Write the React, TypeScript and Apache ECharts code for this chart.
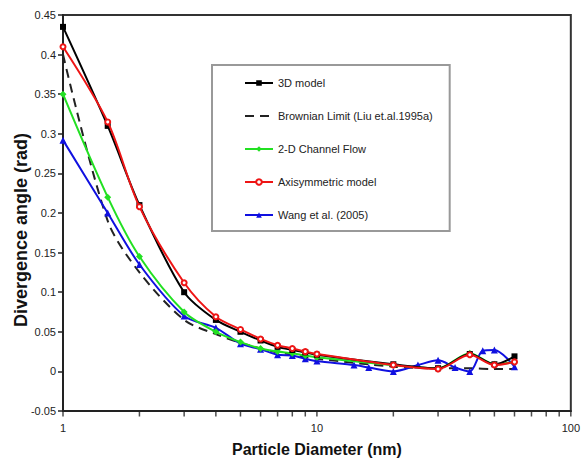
import React, { useEffect, useRef } from "react";
import * as echarts from "echarts";

const diam = [1, 1.5, 2, 3, 4, 5, 6, 7, 8, 9, 10, 20, 30, 40, 50, 60];
const model3D = [0.435, 0.31, 0.21, 0.1, 0.065, 0.05, 0.039, 0.031, 0.027, 0.024, 0.021, 0.009, 0.004, 0.022, 0.009, 0.019];
const brownian = [0.4, 0.19, 0.125, 0.065, 0.047, 0.036, 0.029, 0.024, 0.021, 0.018, 0.016, 0.006, 0.004, 0.004, 0.003, 0.003];
const channel2D = [0.35, 0.22, 0.145, 0.075, 0.05, 0.037, 0.029, 0.025, 0.023, 0.02, 0.018, 0.008, 0.004, 0.023, 0.009, 0.012];
const axisym = [0.41, 0.315, 0.208, 0.112, 0.069, 0.053, 0.041, 0.033, 0.029, 0.025, 0.022, 0.008, 0.003, 0.021, 0.008, 0.012];
const wangDiam = [1, 1.5, 2, 3, 4, 5, 6, 7, 8, 9, 10, 14, 16, 20, 25, 30, 35, 40, 45, 50, 60];
const wang = [0.292, 0.2, 0.135, 0.07, 0.055, 0.035, 0.028, 0.021, 0.02, 0.016, 0.013, 0.008, 0.005, 0.0, 0.008, 0.014, 0.005, 0.0, 0.026, 0.027, 0.006];

const xTicks = [1, 2, 3, 4, 5, 6, 7, 8, 9, 10, 20, 30, 40, 50, 60, 70, 80, 90, 100];
const yMin = -0.05;
const yTitle = "Divergence angle (rad)";
const xTitle = "Particle Diameter (nm)";

const pair = (xs: number[], ys: number[]) => xs.map((x, i) => [x, ys[i]]);

export default function App() {
  const ref = useRef<HTMLDivElement>(null);
  useEffect(() => {
    if (!ref.current) return;
    const chart = echarts.init(ref.current, undefined, { renderer: "svg" });
    const font = "Liberation Sans, Arial, sans-serif";
    chart.setOption({
      animation: false,
      backgroundColor: "#fff",
      grid: {
        left: 63,
        top: 15,
        right: 11,
        bottom: 50,
        show: true,
        borderColor: "#333",
        borderWidth: 2,
        backgroundColor: "transparent",
      },
      graphic: [
        {
          type: "text",
          x: 21,
          y: 230,
          rotation: Math.PI / 2,
          style: {
            text: yTitle,
            fontFamily: font,
            fontSize: 18,
            fontWeight: "bold",
            fill: "#111",
            align: "center",
            verticalAlign: "middle",
          },
        },
      ],
      legend: {
        orient: "vertical",
        left: 212,
        top: 65,
        padding: [11, 17, 9, 32],
        itemGap: 19,
        itemWidth: 28,
        itemHeight: 7,
        backgroundColor: "#fff",
        borderColor: "#999",
        borderWidth: 2,
        textStyle: { fontFamily: font, fontSize: 11, color: "#222", lineHeight: 14 },
        data: [
          "3D model",
          { name: "Brownian Limit (Liu et.al.1995a)", itemStyle: { opacity: 0 } },
          "2-D Channel Flow",
          "Axisymmetric model",
          "Wang et al. (2005)",
        ],
      },
      xAxis: {
        type: "log",
        logBase: 10,
        min: 1,
        max: 100,
        name: xTitle,
        nameLocation: "middle",
        nameGap: 30,
        nameTextStyle: { fontFamily: font, fontSize: 16, fontWeight: "bold", color: "#111" },
        axisLine: { show: true, onZero: false, lineStyle: { color: "#222", width: 2 } },
        axisTick: { show: false },
        axisLabel: { fontFamily: font, fontSize: 11, color: "#222", margin: 11 },
        splitLine: { show: false },
        minorTick: { show: false },
      },
      yAxis: {
        type: "value",
        min: yMin,
        max: 0.45,
        interval: 0.05,
        axisLine: { show: true, onZero: false, lineStyle: { color: "#222", width: 2 } },
        axisTick: { show: true, inside: false, length: 5, lineStyle: { color: "#222", width: 1.5 } },
        axisLabel: {
          fontFamily: font,
          fontSize: 11,
          color: "#222",
          margin: 7,
          formatter: (v: number) => String(parseFloat(v.toFixed(2))),
        },
        splitLine: { show: false },
      },
      series: [
        {
          name: "xTicks",
          type: "scatter",
          data: xTicks.map((v) => [v, yMin]),
          symbol: "rect",
          symbolSize: [1.5, 5],
          symbolOffset: [0, 3],
          itemStyle: { color: "#222" },
          clip: false,
          silent: true,
          z: 10,
        },
        {
          name: "Brownian Limit (Liu et.al.1995a)",
          type: "line",
          smooth: 0.3,
          data: pair(diam, brownian),
          symbol: "circle",
          showSymbol: false,
          lineStyle: { color: "#222", width: 2, type: [9, 6] },
          itemStyle: { color: "#222" },
          z: 2,
        },
        {
          name: "Wang et al. (2005)",
          type: "line",
          smooth: 0.3,
          data: pair(wangDiam, wang),
          symbol: "triangle",
          symbolSize: 7,
          lineStyle: { color: "#1010e0", width: 2 },
          itemStyle: { color: "#1010e0" },
          z: 3,
        },
        {
          name: "2-D Channel Flow",
          type: "line",
          smooth: 0.3,
          data: pair(diam, channel2D),
          symbol: "diamond",
          symbolSize: 7,
          lineStyle: { color: "#22e022", width: 2 },
          itemStyle: { color: "#22e022" },
          z: 4,
        },
        {
          name: "3D model",
          type: "line",
          smooth: 0.3,
          data: pair(diam, model3D),
          symbol: "rect",
          symbolSize: 6,
          lineStyle: { color: "#000", width: 2 },
          itemStyle: { color: "#000" },
          z: 5,
        },
        {
          name: "Axisymmetric model",
          type: "line",
          smooth: 0.3,
          data: pair(diam, axisym),
          symbol: "emptyCircle",
          symbolSize: 5,
          lineStyle: { color: "#ee1515", width: 2 },
          itemStyle: { color: "#ee1515", borderColor: "#f07070", borderWidth: 1 },
          z: 6,
        },
      ],
    });
    return () => chart.dispose();
  }, []);
  return <div ref={ref} style={{ width: 583, height: 462, position: "absolute", left: 0, top: 0 }} />;
}
